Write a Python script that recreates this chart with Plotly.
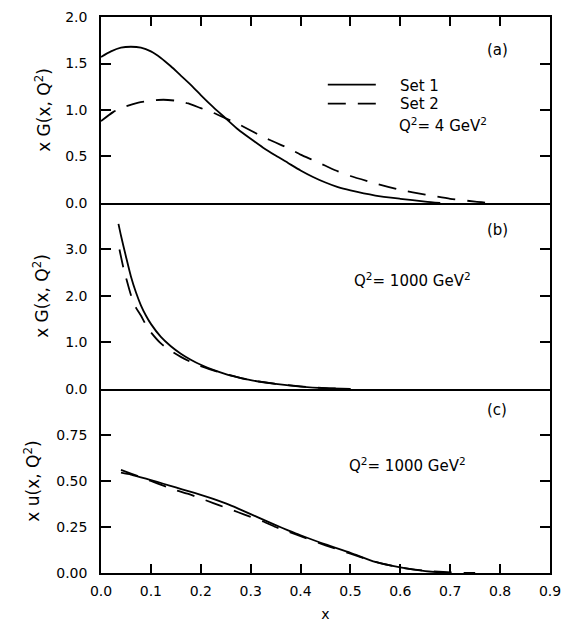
import plotly.graph_objects as go

# ---- data ----
# Panel (a): x G(x, Q^2), Q^2 = 4 GeV^2
xa_set1 = [0, 0.02, 0.04, 0.06, 0.08, 0.10, 0.12, 0.14, 0.16, 0.18, 0.20, 0.225, 0.25, 0.275,
           0.30, 0.325, 0.35, 0.375, 0.40, 0.425, 0.45, 0.475, 0.50, 0.55, 0.60, 0.65, 0.68]
ya_set1 = [1.57, 1.63, 1.67, 1.68, 1.67, 1.63, 1.56, 1.47, 1.37, 1.27, 1.16, 1.03, 0.91, 0.79,
           0.69, 0.595, 0.51, 0.43, 0.35, 0.28, 0.22, 0.17, 0.135, 0.08, 0.045, 0.015, 0.0]
xa_set2 = [0, 0.025, 0.05, 0.075, 0.10, 0.125, 0.15, 0.175, 0.20, 0.225, 0.25, 0.275, 0.30,
           0.325, 0.35, 0.375, 0.40, 0.425, 0.45, 0.475, 0.50, 0.55, 0.60, 0.65, 0.70, 0.75, 0.78]
ya_set2 = [0.88, 0.98, 1.04, 1.08, 1.10, 1.11, 1.10, 1.07, 1.02, 0.97, 0.91, 0.85, 0.78,
           0.71, 0.65, 0.59, 0.52, 0.46, 0.40, 0.34, 0.29, 0.21, 0.14, 0.09, 0.045, 0.015, 0.0]

# Panel (b): x G(x, Q^2), Q^2 = 1000 GeV^2
xb_set1 = [0.035, 0.04, 0.05, 0.06, 0.07, 0.08, 0.09, 0.10, 0.12, 0.14, 0.16, 0.18, 0.20,
           0.225, 0.25, 0.275, 0.30, 0.35, 0.40, 0.45, 0.50]
yb_set1 = [3.55, 3.30, 2.85, 2.42, 2.08, 1.80, 1.58, 1.40, 1.12, 0.92, 0.76, 0.63, 0.52,
           0.41, 0.32, 0.25, 0.19, 0.11, 0.05, 0.015, 0.0]
xb_set2 = [0.037, 0.045, 0.05, 0.06, 0.07, 0.08, 0.09, 0.10, 0.12, 0.14, 0.16, 0.18, 0.20,
           0.225, 0.25, 0.275, 0.30, 0.35, 0.40, 0.45, 0.50]
yb_set2 = [3.00, 2.60, 2.40, 2.02, 1.75, 1.58, 1.38, 1.22, 0.98, 0.82, 0.69, 0.58, 0.49,
           0.40, 0.32, 0.25, 0.19, 0.11, 0.055, 0.02, 0.0]

# Panel (c): x u(x, Q^2), Q^2 = 1000 GeV^2
xc_set1 = [0.04, 0.06, 0.08, 0.10, 0.125, 0.15, 0.175, 0.20, 0.225, 0.25, 0.275, 0.30, 0.325,
           0.35, 0.375, 0.40, 0.45, 0.50, 0.55, 0.60, 0.65, 0.70]
yc_set1 = [0.545, 0.535, 0.52, 0.505, 0.485, 0.465, 0.445, 0.425, 0.403, 0.378, 0.35, 0.32, 0.29,
           0.26, 0.232, 0.205, 0.155, 0.11, 0.06, 0.03, 0.01, 0.0]
xc_set2 = [0.04, 0.06, 0.08, 0.10, 0.125, 0.15, 0.175, 0.20, 0.225, 0.25, 0.275, 0.30, 0.325,
           0.35, 0.375, 0.40, 0.45, 0.50, 0.55, 0.60, 0.65, 0.70, 0.75]
yc_set2 = [0.56, 0.54, 0.52, 0.50, 0.475, 0.45, 0.43, 0.405, 0.38, 0.355, 0.33, 0.305, 0.28,
           0.25, 0.225, 0.20, 0.15, 0.105, 0.06, 0.03, 0.012, 0.003, 0.0]

x_ticks = [0.0, 0.1, 0.2, 0.3, 0.4, 0.5, 0.6, 0.7, 0.8, 0.9]
ya_ticks = [0.0, 0.5, 1.0, 1.5, 2.0]
yb_ticks = [0.0, 1.0, 2.0, 3.0]
yc_ticks = [0.0, 0.25, 0.50, 0.75]

FONT = "DejaVu Sans"
NB = "\u00a0" * 4
solid = dict(color="black", width=1.8, shape="spline", smoothing=0.6)
dashed = dict(color="black", width=1.8, dash="18px,12px", shape="spline", smoothing=0.6)

fig = go.Figure()
fig.add_trace(go.Scatter(x=xa_set1, y=ya_set1, mode="lines", line=solid, name=NB + "Set 1",
                         xaxis="x", yaxis="y", legend="legend"))
fig.add_trace(go.Scatter(x=xa_set2, y=ya_set2, mode="lines", line=dashed, name=NB + "Set 2",
                         xaxis="x", yaxis="y", legend="legend2"))
fig.add_trace(go.Scatter(x=xb_set1, y=yb_set1, mode="lines", line=solid, showlegend=False,
                         xaxis="x2", yaxis="y2"))
fig.add_trace(go.Scatter(x=xb_set2, y=yb_set2, mode="lines", line=dashed, showlegend=False,
                         xaxis="x2", yaxis="y2"))
fig.add_trace(go.Scatter(x=xc_set1, y=yc_set1, mode="lines", line=solid, showlegend=False,
                         xaxis="x3", yaxis="y3"))
fig.add_trace(go.Scatter(x=xc_set2, y=yc_set2, mode="lines", line=dashed, showlegend=False,
                         xaxis="x3", yaxis="y3"))

axbase = dict(showline=True, linecolor="black", linewidth=1.5, showgrid=False, zeroline=False,
              tickcolor="black", tickwidth=1.5, automargin=False)

d_c = [0.0, 0.331]
d_b = [0.331, 0.6655]
d_a = [0.6655, 1.0]

leg = dict(xanchor="left", yanchor="top", bgcolor="rgba(0,0,0,0)",
           font=dict(family=FONT, size=15), itemwidth=48)

fig.update_layout(
    width=571, height=622,
    margin=dict(l=101, r=21, t=17, b=49),
    paper_bgcolor="white", plot_bgcolor="white",
    font=dict(family=FONT, size=14, color="black"),
    xaxis=dict(axbase, domain=[0, 1], range=[0, 0.9], anchor="y", side="top", ticks="inside",
               ticklen=9, tickvals=x_ticks[1:-1], showticklabels=False, mirror=True),
    xaxis2=dict(axbase, domain=[0, 1], range=[0, 0.9], anchor="y2", ticks="",
                showticklabels=False, mirror=False, matches="x"),
    xaxis3=dict(axbase, domain=[0, 1], range=[0, 0.9], anchor="y3", ticks="inside", ticklen=9,
                tickvals=x_ticks, tickformat=".1f", mirror=False, matches="x",
                ticklabelstandoff=4,
                title=dict(text="x", standoff=12, font=dict(size=14))),
    yaxis=dict(axbase, domain=d_a, range=[0, 2.0], anchor="x", ticks="inside", ticklen=10,
               tickvals=ya_ticks, tickformat=".1f", mirror="ticks", ticklabelstandoff=9,
               title=dict(text="x G(x, Q<sup>2</sup>)", standoff=10)),
    yaxis2=dict(axbase, domain=d_b, range=[0, 4.0], anchor="x2", ticks="inside", ticklen=10,
                tickvals=yb_ticks, tickformat=".1f", mirror="ticks", ticklabelstandoff=9,
                title=dict(text="x G(x, Q<sup>2</sup>)", standoff=12)),
    yaxis3=dict(axbase, domain=d_c, range=[0, 1.0], anchor="x3", ticks="inside", ticklen=10,
                tickvals=yc_ticks, tickformat=".2f", mirror="ticks", ticklabelstandoff=9,
                title=dict(text="x u(x, Q<sup>2</sup>)", standoff=12)),
    legend=dict(leg, x=0.494, y=0.9075),
    legend2=dict(leg, x=0.494, y=0.8734),
    showlegend=True,
)

ann_font = dict(family=FONT, size=15, color="black")
annotations = [
    dict(text="(a)", x=0.882, y=0.9406),
    dict(text="(b)", x=0.882, y=0.617),
    dict(text="(c)", x=0.882, y=0.293),
]
for a in annotations:
    fig.add_annotation(xref="paper", yref="paper", showarrow=False, xanchor="center",
                       yanchor="middle", font=ann_font, **a)
q_labels = [
    dict(text="Q<sup>2</sup>= 4 GeV<sup>2</sup>", x=0.659, y=0.806),
    dict(text="Q<sup>2</sup>= 1000 GeV<sup>2</sup>", x=0.559, y=0.527),
    dict(text="Q<sup>2</sup>= 1000 GeV<sup>2</sup>", x=0.548, y=0.194),
]
for a in q_labels:
    fig.add_annotation(xref="paper", yref="paper", showarrow=False, xanchor="left",
                       yanchor="middle", font=ann_font, **a)

fig.write_html("out.html")
